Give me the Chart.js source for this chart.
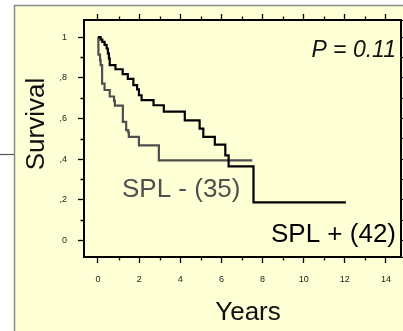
<!DOCTYPE html>
<html>
<head>
<meta charset="utf-8">
<script src="https://cdn.jsdelivr.net/npm/chart.js@4/dist/chart.umd.min.js"></script>
<style>
  html, body { margin: 0; padding: 0; background: #ffffff; }
  canvas { display: block; }
</style>
</head>
<body>
<canvas id="km" width="403" height="331"></canvas>
<script>
// Kaplan-Meier estimates: years of follow-up and survival after each event
const splPlusYears = [0, 0.13, 0.21, 0.32, 0.42, 0.48, 0.53, 0.57, 0.85, 1.2, 1.45, 1.72, 1.9, 1.99, 2.12, 2.7, 3.2, 4.22, 4.94, 5.12, 5.68, 6.19, 6.35, 7.56, 12.05];
const splPlusSurv  = [1, 0.988, 0.976, 0.962, 0.944, 0.92, 0.895, 0.862, 0.842, 0.818, 0.795, 0.764, 0.743, 0.714, 0.69, 0.665, 0.634, 0.591, 0.55, 0.509, 0.471, 0.419, 0.364, 0.188, 0.188];

const splMinusYears = [0, 0.02, 0.1, 0.13, 0.2, 0.32, 0.57, 0.78, 0.82, 1.21, 1.37, 1.47, 1.5, 1.99, 2.96, 7.5];
const splMinusSurv  = [1, 0.914, 0.886, 0.862, 0.771, 0.74, 0.708, 0.686, 0.663, 0.583, 0.543, 0.532, 0.509, 0.468, 0.394, 0.394];

const xTickValues = [0, 2, 4, 6, 8, 10, 12, 14];
const yTickValues = [0, 0.2, 0.4, 0.6, 0.8, 1];
const yTickLabels = ['0', ',2', ',4', ',6', ',8', '1'];

const seriesLabels = ['SPL + (42)', 'SPL - (35)'];
const pLabel = 'P = 0.11';
const xTitle = 'Years';
const yTitle = 'Survival';

const FONT = '"Liberation Sans", Arial, Helvetica, sans-serif';
const PANEL = '#ffffd6';
const GREY_LINE = '#4f4f4f';

const toPoints = (xs, ys) => xs.map((x, i) => ({ x: x, y: ys[i] }));

// Panel background, frame and side rule
const panelPlugin = {
  id: 'panel',
  beforeDraw(chart) {
    const ctx = chart.ctx;
    ctx.save();
    ctx.fillStyle = PANEL;
    ctx.fillRect(14, 5, chart.width - 14, chart.height - 5);
    ctx.strokeStyle = '#8a8a8a';
    ctx.lineWidth = 1.5;
    ctx.beginPath();
    ctx.moveTo(14.5, chart.height);
    ctx.lineTo(14.5, 5.5);
    ctx.lineTo(chart.width, 5.5);
    ctx.stroke();
    ctx.strokeStyle = '#555555';
    ctx.lineWidth = 1.2;
    ctx.beginPath();
    ctx.moveTo(0, 154.5);
    ctx.lineTo(14, 154.5);
    ctx.stroke();
    ctx.restore();
  }
};

// Short minor tick marks between the labelled ticks
const minorTicksPlugin = {
  id: 'minorTicks',
  afterDraw(chart) {
    const ctx = chart.ctx;
    const a = chart.chartArea;
    const xs = chart.scales.x;
    const ys = chart.scales.y;
    ctx.save();
    ctx.strokeStyle = '#000';
    ctx.lineWidth = 1.3;
    ctx.beginPath();
    for (let v = 1; v <= 13; v += 2) {
      const px = Math.round(xs.getPixelForValue(v)) + 0.5;
      ctx.moveTo(px, a.bottom); ctx.lineTo(px, a.bottom + 3.5);
      ctx.moveTo(px, a.top); ctx.lineTo(px, a.top - 3.5);
    }
    for (let k = 1; k <= 9; k += 2) {
      const py = Math.round(ys.getPixelForValue(k / 10)) + 0.5;
      ctx.moveTo(a.left, py); ctx.lineTo(a.left - 3.5, py);
    }
    ctx.stroke();
    ctx.restore();
  }
};

// Axis titles, p-value and curve labels
const textPlugin = {
  id: 'texts',
  afterDraw(chart) {
    const ctx = chart.ctx;
    ctx.save();
    ctx.textBaseline = 'alphabetic';

    ctx.fillStyle = '#111';
    ctx.font = 'italic 23px ' + FONT;
    ctx.textAlign = 'right';
    ctx.fillText(pLabel, 396, 57);

    ctx.fillStyle = GREY_LINE;
    ctx.font = '26px ' + FONT;
    ctx.textAlign = 'left';
    ctx.fillText(seriesLabels[1], 122, 197);

    ctx.fillStyle = '#000';
    ctx.textAlign = 'right';
    ctx.fillText(seriesLabels[0], 396, 242);

    ctx.fillStyle = '#111';
    ctx.textAlign = 'center';
    ctx.fillText(xTitle, 248, 320);

    ctx.translate(44, 124);
    ctx.rotate(-Math.PI / 2);
    ctx.fillText(yTitle, 0, 0);
    ctx.restore();
  }
};

const tickFont = { family: FONT, size: 9 };

new Chart(document.getElementById('km'), {
  type: 'scatter',
  data: {
    datasets: [
      {
        label: seriesLabels[0],
        data: toPoints(splPlusYears, splPlusSurv),
        showLine: true,
        stepped: true,
        borderColor: '#000000',
        borderWidth: 2.2,
        pointRadius: 0,
        fill: false
      },
      {
        label: seriesLabels[1],
        data: toPoints(splMinusYears, splMinusSurv),
        showLine: true,
        stepped: true,
        borderColor: GREY_LINE,
        borderWidth: 2.2,
        pointRadius: 0,
        fill: false
      }
    ]
  },
  options: {
    responsive: false,
    animation: false,
    devicePixelRatio: 1,
    layout: { padding: 0 },
    plugins: {
      legend: { display: false },
      tooltip: { enabled: false },
      title: { display: false }
    },
    scales: {
      x: {
        type: 'linear',
        position: 'bottom',
        min: -0.68,
        max: 14.73,
        afterFit: s => { s.height = 74; },
        afterBuildTicks: s => { s.ticks = xTickValues.map(v => ({ value: v })); },
        ticks: {
          font: tickFont,
          color: '#222',
          padding: 11,
          maxRotation: 0,
          callback: v => String(v)
        },
        grid: { drawOnChartArea: false, drawTicks: true, tickLength: 6, tickColor: '#000', tickWidth: 1.3 },
        border: { display: true, color: '#000', width: 2 }
      },
      xTop: {
        type: 'linear',
        position: 'top',
        min: -0.68,
        max: 14.73,
        afterFit: s => { s.height = 20; },
        afterBuildTicks: s => { s.ticks = xTickValues.map(v => ({ value: v })); },
        ticks: { display: false },
        grid: { drawOnChartArea: false, drawTicks: true, tickLength: 6, tickColor: '#000', tickWidth: 1.3 },
        border: { display: true, color: '#000', width: 2 }
      },
      y: {
        type: 'linear',
        position: 'left',
        min: -0.081,
        max: 1.084,
        afterFit: s => { s.width = 84; },
        afterBuildTicks: s => { s.ticks = yTickValues.map(v => ({ value: v })); },
        ticks: {
          font: tickFont,
          color: '#222',
          padding: 11,
          callback: (v) => {
            const i = yTickValues.findIndex(t => Math.abs(t - v) < 1e-6);
            return i >= 0 ? yTickLabels[i] : '';
          }
        },
        grid: { drawOnChartArea: false, drawTicks: true, tickLength: 6, tickColor: '#000', tickWidth: 1.3 },
        border: { display: true, color: '#000', width: 2 }
      },
      yRight: {
        type: 'linear',
        position: 'right',
        min: -0.081,
        max: 1.084,
        afterFit: s => { s.width = 2; },
        ticks: { display: false, stepSize: 0.1 },
        grid: { drawOnChartArea: false, drawTicks: true, tickLength: 3, tickColor: '#000', tickWidth: 1.2 },
        border: { display: true, color: '#000', width: 2 }
      }
    }
  },
  plugins: [panelPlugin, minorTicksPlugin, textPlugin]
});
</script>
</body>
</html>
